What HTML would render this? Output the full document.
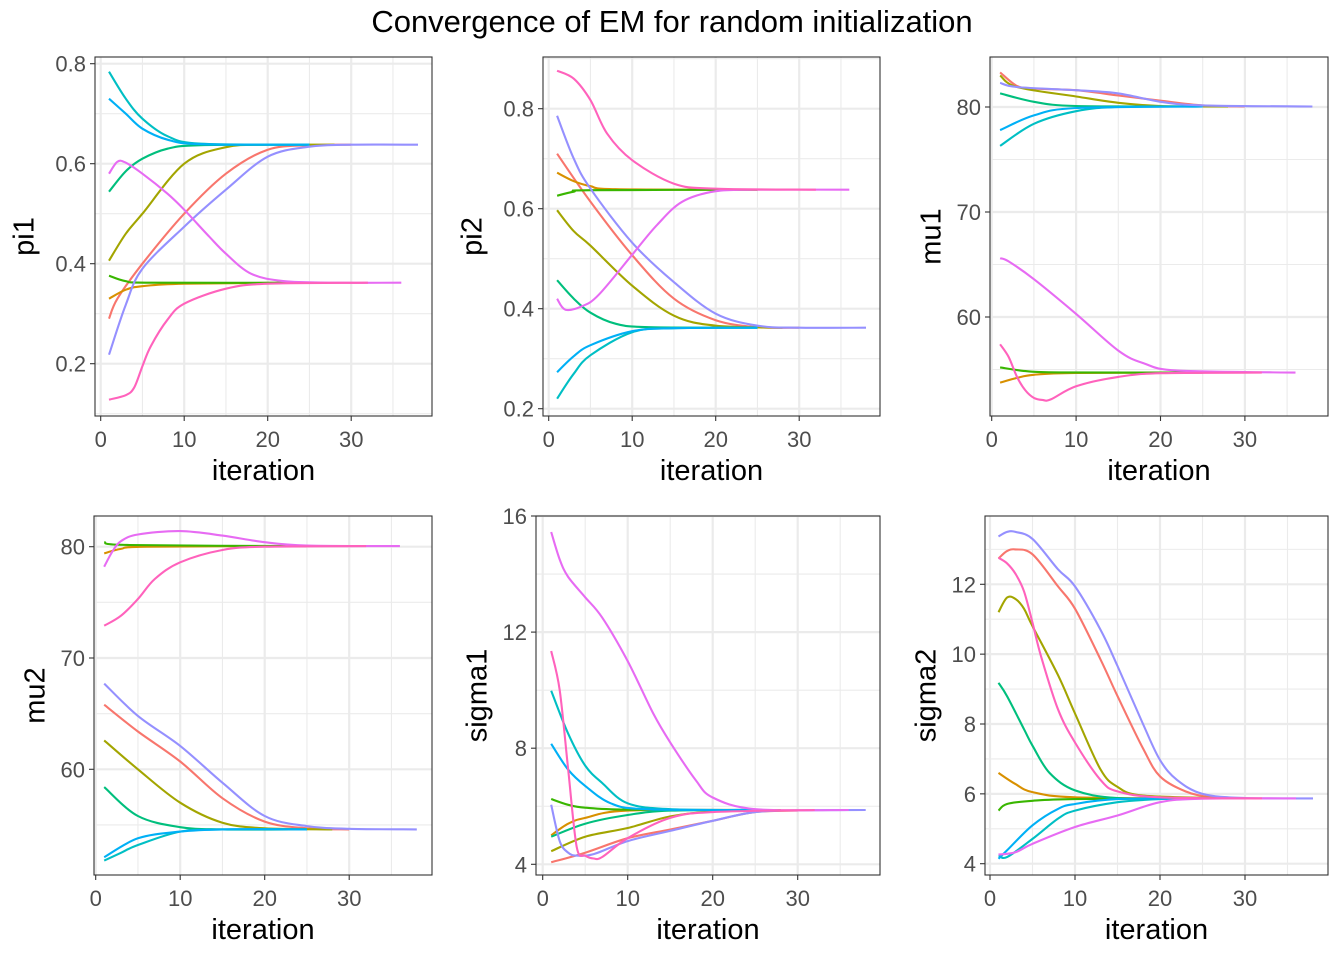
<!DOCTYPE html>
<html><head><meta charset="utf-8"><title>Convergence of EM</title>
<style>
html,body{margin:0;padding:0;background:#fff;}
svg{display:block;font-family:"Liberation Sans",Arial,sans-serif;}
</style></head>
<body>
<svg id="chart" width="1344" height="960" viewBox="0 0 1344 960" xmlns="http://www.w3.org/2000/svg">
<rect x="0" y="0" width="1344" height="960" fill="#fff"/>
<text x="672" y="32" text-anchor="middle" font-size="31" fill="#000">Convergence of EM for random initialization</text>
</svg>
<script>
const seriesColors = ["#F8766D","#D89000","#A3A500","#39B600","#00BF7D","#00BFC4","#00B0F6","#9590FF","#E76BF3","#FF62BC"];
const xTicks = [0,10,20,30];

const pi1Data = [
 [[1,.29],[2,.33],[5,.40],[10,.50],[15,.58],[20,.628],[25,.637],[30,.638]],
 [[1,.33],[3,.348],[5,.355],[10,.36],[25,.362]],
 [[1,.406],[3,.46],[5,.50],[10,.60],[15,.633],[20,.638],[28,.638]],
 [[1,.376],[3,.365],[6,.362],[25,.362]],
 [[1,.544],[3,.585],[5,.61],[8,.63],[12,.637],[25,.638]],
 [[1,.784],[3,.73],[5,.69],[8,.655],[12,.64],[25,.638]],
 [[1,.73],[3,.70],[5,.67],[8,.648],[12,.639],[25,.638]],
 [[1,.218],[3,.318],[5,.39],[10,.474],[15,.548],[20,.614],[25,.634],[30,.638],[38,.638]],
 [[1,.58],[2,.604],[3,.602],[5,.58],[8,.54],[10,.508],[13,.454],[15,.42],[18,.38],[22,.365],[28,.362],[36,.362]],
 [[1,.128],[3,.137],[4,.152],[5,.195],[6,.235],[8,.288],[10,.32],[15,.35],[20,.36],[32,.362]]
];
const pi2Data = [
 [[1,.71],[5,.614],[10,.507],[15,.42],[20,.377],[25,.363],[30,.362]],
 [[1,.672],[3,.655],[5,.645],[8,.639],[25,.638]],
 [[1,.597],[3,.555],[5,.526],[10,.446],[15,.386],[20,.366],[28,.362]],
 [[1,.626],[3,.634],[5,.637],[25,.638]],
 [[1,.457],[3,.42],[5,.392],[8,.37],[12,.363],[25,.362]],
 [[1,.22],[3,.27],[5,.307],[10,.353],[15,.361],[25,.362]],
 [[1,.273],[3,.305],[5,.327],[10,.355],[15,.361],[25,.362]],
 [[1,.786],[3,.70],[5,.64],[10,.532],[15,.453],[20,.39],[25,.366],[30,.362],[38,.362]],
 [[1,.42],[2,.398],[4,.405],[6,.428],[10,.508],[13,.568],[16,.614],[20,.635],[25,.638],[36,.638]],
 [[1,.876],[3,.86],[5,.817],[7,.75],[10,.697],[15,.65],[20,.64],[32,.638]]
];
const mu1Data = [
 [[1,83.3],[3,82.0],[5,81.75],[10,81.6],[15,81.1],[20,80.6],[25,80.15],[30,80.05]],
 [[1,53.75],[3,54.2],[5,54.5],[10,54.68],[25,54.7]],
 [[1,83.0],[3,81.9],[10,81.0],[15,80.4],[20,80.1],[28,80.05]],
 [[1,55.2],[4,54.85],[8,54.72],[25,54.7]],
 [[1,81.3],[5,80.5],[10,80.1],[25,80.05]],
 [[1,76.3],[5,78.4],[10,79.6],[15,80.0],[25,80.05]],
 [[1,77.8],[5,79.2],[10,79.9],[25,80.05]],
 [[1,82.3],[3,81.9],[10,81.6],[15,81.3],[20,80.5],[25,80.15],[38,80.05]],
 [[1,65.6],[2,65.3],[5,63.6],[10,60.3],[15,56.8],[18,55.6],[22,54.9],[36,54.7]],
 [[1,57.4],[2,56.2],[3,54.3],[4,53.0],[5,52.3],[6,52.1],[7,52.15],[10,53.4],[15,54.3],[20,54.65],[32,54.7]]
];
const mu2Data = [
 [[1,65.8],[5,63.4],[10,60.7],[15,57.4],[20,55.3],[25,54.7],[30,54.6]],
 [[1,79.4],[3,79.8],[6,80.0],[25,80.05]],
 [[1,62.6],[5,60.0],[10,57.0],[15,55.2],[20,54.7],[28,54.6]],
 [[1,80.4],[4,80.15],[25,80.05]],
 [[1,58.4],[5,55.8],[10,54.8],[15,54.6],[25,54.6]],
 [[1,51.8],[3,52.5],[5,53.2],[10,54.4],[15,54.6],[25,54.6]],
 [[1,52.1],[5,53.8],[10,54.4],[15,54.6],[25,54.6]],
 [[1,67.7],[5,64.8],[10,62.1],[15,58.8],[20,55.8],[25,54.9],[30,54.65],[38,54.6]],
 [[1,78.2],[2,79.6],[3,80.5],[5,81.1],[10,81.4],[15,81.0],[20,80.4],[25,80.1],[36,80.05]],
 [[1,72.9],[3,73.8],[5,75.3],[7,77.1],[10,78.6],[15,79.7],[20,80.0],[32,80.05]]
];
const sigma1Data = [
 [[1,4.07],[5,4.4],[10,4.9],[15,5.2],[20,5.5],[25,5.8],[30,5.85]],
 [[1,5.0],[3,5.4],[5,5.6],[10,5.85],[25,5.87]],
 [[1,4.45],[5,4.95],[10,5.25],[15,5.65],[20,5.82],[28,5.87]],
 [[1,6.25],[3,6.05],[5,5.95],[10,5.88],[25,5.87]],
 [[1,4.95],[5,5.4],[10,5.7],[15,5.85],[25,5.87]],
 [[1,9.98],[3,8.5],[5,7.4],[7,6.8],[10,6.1],[15,5.9],[25,5.87]],
 [[1,8.15],[3,7.26],[5,6.7],[8,6.1],[12,5.9],[25,5.87]],
 [[1,6.05],[2,4.8],[3,4.4],[4,4.3],[6,4.35],[10,4.8],[15,5.15],[20,5.5],[25,5.8],[30,5.86],[38,5.87]],
 [[1,15.45],[2,14.5],[3,13.9],[5,13.2],[7,12.5],[10,11.0],[13,9.2],[15,8.2],[18,6.9],[20,6.3],[25,5.9],[36,5.87]],
 [[1,11.35],[2,10.0],[3,7.26],[4,4.6],[5,4.3],[6,4.2],[7,4.25],[10,4.9],[15,5.6],[20,5.8],[32,5.87]]
];
const sigma2Data = [
 [[1,12.74],[2,12.95],[3,13.0],[5,12.86],[8,11.94],[10,11.3],[13,9.85],[15,8.8],[18,7.3],[20,6.5],[23,6.07],[26,5.9],[30,5.87]],
 [[1,6.6],[3,6.28],[5,6.05],[10,5.9],[25,5.87]],
 [[1,11.2],[2,11.62],[3,11.58],[4,11.3],[5,10.8],[8,9.4],[10,8.3],[13,6.7],[15,6.2],[18,5.95],[28,5.87]],
 [[1,5.52],[2,5.71],[5,5.8],[10,5.85],[25,5.87]],
 [[1,9.18],[2,8.8],[4,7.85],[5,7.38],[7,6.6],[10,6.1],[15,5.88],[25,5.87]],
 [[1,4.24],[2,4.19],[5,4.71],[8,5.29],[10,5.52],[15,5.76],[20,5.85],[25,5.87]],
 [[1,4.14],[2,4.38],[5,5.1],[8,5.57],[10,5.71],[15,5.85],[25,5.87]],
 [[1,13.37],[2,13.5],[3,13.5],[5,13.3],[8,12.43],[10,11.94],[13,10.7],[15,9.66],[18,8.0],[20,6.97],[22,6.4],[25,6.0],[30,5.88],[38,5.87]],
 [[1,4.26],[3,4.33],[5,4.57],[10,5.05],[15,5.38],[20,5.76],[25,5.86],[36,5.87]],
 [[1,12.76],[2,12.6],[3,12.3],[4,11.8],[5,10.9],[6,9.94],[8,8.42],[10,7.47],[13,6.4],[15,6.07],[20,5.9],[32,5.87]]
];
const pi1Ticks = [0.2,0.4,0.6,0.8];
const pi2Ticks = [0.2,0.4,0.6,0.8];
const mu1Ticks = [60,70,80];
const mu2Ticks = [60,70,80];
const sigma1Ticks = [4,8,12,16];
const sigma2Ticks = [4,6,8,10,12];

const NS = "http://www.w3.org/2000/svg";
const svg = document.getElementById("chart");
function mk(tag, attrs, parent){
  const e = document.createElementNS(NS, tag);
  for (const k in attrs) e.setAttribute(k, attrs[k]);
  (parent||svg).appendChild(e);
  return e;
}
const panels = [
 {name:"pi1", data:pi1Data, ticks:pi1Ticks, fmt:v=>v.toFixed(1), L:95,R:432,T:57,B:416, x0:100.7, xs:8.35, ya:[0.8,63.7], yb:[0.2,363.7]},
 {name:"pi2", data:pi2Data, ticks:pi2Ticks, fmt:v=>v.toFixed(1), L:543,R:880,T:57,B:416, x0:548.7, xs:8.35, ya:[0.8,108.7], yb:[0.2,408.7]},
 {name:"mu1", data:mu1Data, ticks:mu1Ticks, fmt:v=>String(v), L:990,R:1328,T:57,B:416, x0:991.7, xs:8.44, ya:[80,107], yb:[60,317]},
 {name:"mu2", data:mu2Data, ticks:mu2Ticks, fmt:v=>String(v), L:94,R:432,T:516,B:875, x0:95.7, xs:8.45, ya:[80,546.7], yb:[60,769.3]},
 {name:"sigma1", data:sigma1Data, ticks:sigma1Ticks, fmt:v=>String(v), L:536,R:880,T:516,B:875, x0:542.7, xs:8.5, ya:[16,516], yb:[4,864.3]},
 {name:"sigma2", data:sigma2Data, ticks:sigma2Ticks, fmt:v=>String(v), L:985,R:1328,T:516,B:875, x0:990, xs:8.5, ya:[12,584.3], yb:[4,863.7]}
];
function smoothPath(pts){
  let d = "M"+pts[0][0].toFixed(1)+","+pts[0][1].toFixed(1);
  for (let i=0;i<pts.length-1;i++){
    const p0=pts[Math.max(0,i-1)], p1=pts[i], p2=pts[i+1], p3=pts[Math.min(pts.length-1,i+2)];
    const c1x=p1[0]+(p2[0]-p0[0])/6, c1y=p1[1]+(p2[1]-p0[1])/6;
    const c2x=p2[0]-(p3[0]-p1[0])/6, c2y=p2[1]-(p3[1]-p1[1])/6;
    d += " C"+c1x.toFixed(1)+","+c1y.toFixed(1)+" "+c2x.toFixed(1)+","+c2y.toFixed(1)+" "+p2[0].toFixed(1)+","+p2[1].toFixed(1);
  }
  return d;
}
panels.forEach(p=>{
  const g = mk("g",{});
  
  
  const xPix = v => p.x0 + v*p.xs;
  const yScale = (p.yb[1]-p.ya[1])/(p.yb[0]-p.ya[0]);
  const yPix = v => p.ya[1] + (v-p.ya[0])*yScale;
  const bg = mk("rect",{x:p.L,y:p.T,width:p.R-p.L,height:p.B-p.T,fill:"#fff"},g);
  
  
  const clipId = "clip-"+p.name;
  const cp = mk("clipPath",{id:clipId},g);
  mk("rect",{x:p.L,y:p.T,width:p.R-p.L,height:p.B-p.T},cp);
  [5,15,25,35].forEach(v=>{
    const x=xPix(v); if(x<p.L||x>p.R) return;
    const l = mk("line",{x1:x,x2:x,y1:p.T,y2:p.B,stroke:"#ebebeb","stroke-width":1.1},g);
    
    
  });
  const step = p.ticks[1]-p.ticks[0];
  for (let k=-1;k<p.ticks.length;k++){
    const v = p.ticks[0]+step*(k+0.5);
    const y=yPix(v); if(y<p.T||y>p.B) continue;
    const l = mk("line",{x1:p.L,x2:p.R,y1:y,y2:y,stroke:"#ebebeb","stroke-width":1.1},g);
    
    
  }
  xTicks.forEach(v=>{
    const x=xPix(v);
    const l = mk("line",{x1:x,x2:x,y1:p.T,y2:p.B,stroke:"#ebebeb","stroke-width":2.2},g);
    
    
    const t = mk("line",{x1:x,x2:x,y1:p.B,y2:p.B+5,stroke:"#333","stroke-width":1.1},g);
    
    
    const tx = mk("text",{x:x,y:p.B+31,"text-anchor":"middle","font-size":22,fill:"#4d4d4d"},g);
    tx.textContent = String(v);
    
    
  });
  p.ticks.forEach(v=>{
    const y=yPix(v);
    const l = mk("line",{x1:p.L,x2:p.R,y1:y,y2:y,stroke:"#ebebeb","stroke-width":2.2},g);
    
    
    const t = mk("line",{x1:p.L-5,x2:p.L,y1:y,y2:y,stroke:"#333","stroke-width":1.1},g);
    
    
    const tx = mk("text",{x:p.L-9,y:y+8,"text-anchor":"end","font-size":22,fill:"#4d4d4d"},g);
    tx.textContent = p.fmt(v);
    
    
  });
  const sg = mk("g",{"clip-path":"url(#"+clipId+")"},g);
  p.data.forEach((s,i)=>{
    const pts = s.map(d=>[xPix(d[0]), yPix(d[1])]);
    const path = mk("path",{d:smoothPath(pts),fill:"none",stroke:seriesColors[i],"stroke-width":2.1,"stroke-linejoin":"round"},sg);
    
    
  });
  const border = mk("rect",{x:p.L,y:p.T,width:p.R-p.L,height:p.B-p.T,fill:"none",stroke:"#333","stroke-width":1.1},g);
  
  
  const xt = mk("text",{x:(p.L+p.R)/2,y:p.B+64,"text-anchor":"middle","font-size":29,fill:"#000"},g);
  xt.textContent = "iteration";
  
  
  const cy=(p.T+p.B)/2;
  const labelW = Math.max(...p.ticks.map(v=>p.fmt(v).length))*12.2;
  const cx=p.L-labelW-25;
  const yt = mk("text",{x:cx,y:cy,"text-anchor":"middle","font-size":29,fill:"#000",transform:"rotate(-90 "+cx+" "+cy+")"},g);
  yt.textContent = p.name;
  
  
});
</script>
</body></html>
